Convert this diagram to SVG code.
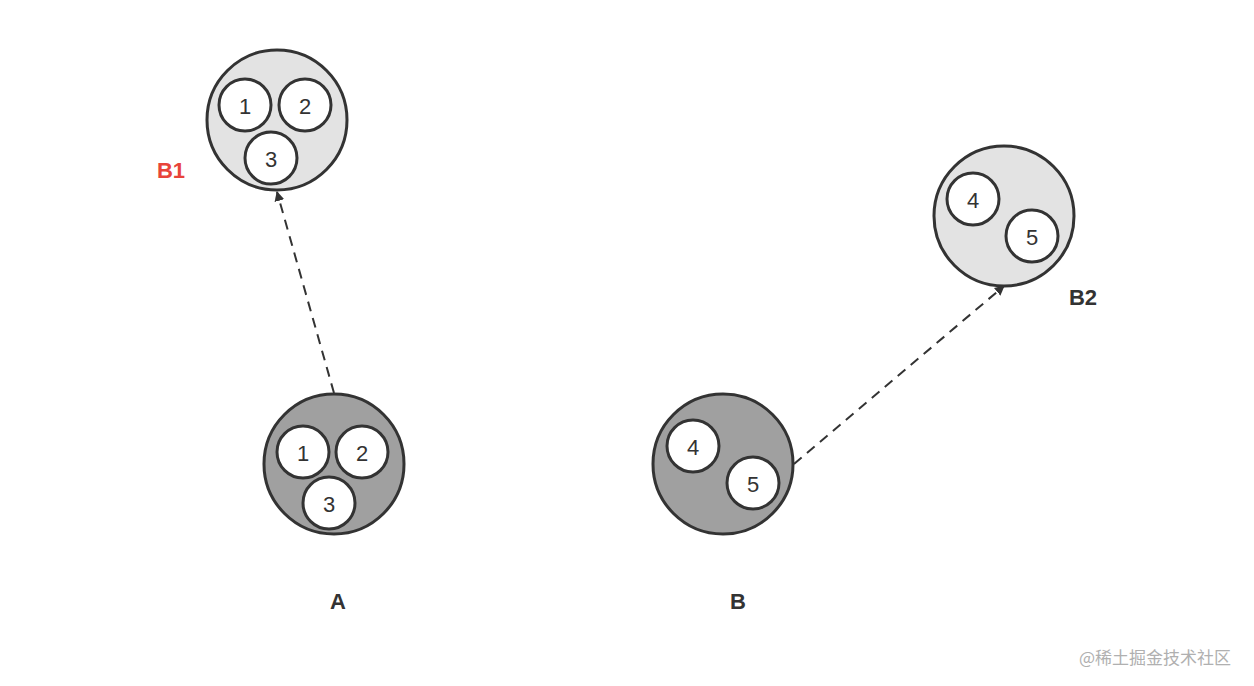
<svg xmlns="http://www.w3.org/2000/svg" width="1254" height="686" viewBox="0 0 1254 686">
<defs>
<marker id="ah" viewBox="0 0 10 10" refX="9" refY="5" markerWidth="5" markerHeight="5" orient="auto" markerUnits="strokeWidth"><path d="M0,0 L10,5 L0,10 z" fill="#333"/></marker>
<style>
.big{stroke:#333;stroke-width:3}
.light{fill:#e3e3e3}.dark{fill:#a0a0a0}
.in{fill:#fff;stroke:#333;stroke-width:3}
.n{font-family:"Liberation Sans",Arial,sans-serif;font-size:22px;fill:#333;text-anchor:middle;dominant-baseline:central}
.lb{font-family:"Liberation Sans",Arial,sans-serif;font-size:22px;font-weight:bold;fill:#333;text-anchor:middle;dominant-baseline:central}
.con{stroke:#333;stroke-width:2;stroke-dasharray:10 7;fill:none;marker-end:url(#ah)}
</style>
</defs>
<rect width="1254" height="686" fill="#fff"/>
<g id="connectors">
<line class="con" x1="334" y1="393" x2="277" y2="192"/>
<line class="con" x1="794" y1="464" x2="1004" y2="286"/>
</g>
<g id="B1">
<circle class="big light" cx="277" cy="120" r="70"/>
<circle class="in" cx="245" cy="105" r="26"/><text class="n" x="245" y="106">1</text>
<circle class="in" cx="305" cy="105" r="26"/><text class="n" x="305" y="106">2</text>
<circle class="in" cx="271" cy="158" r="26"/><text class="n" x="271" y="159">3</text>
<text class="lb" x="171" y="170" style="fill:#e8443a">B1</text>
</g>
<g id="A">
<circle class="big dark" cx="334" cy="464" r="70"/>
<circle class="in" cx="303" cy="452" r="26"/><text class="n" x="303" y="453">1</text>
<circle class="in" cx="362" cy="452" r="26"/><text class="n" x="362" y="453">2</text>
<circle class="in" cx="329" cy="503" r="26"/><text class="n" x="329" y="504">3</text>
<text class="lb" x="338" y="601">A</text>
</g>
<g id="B">
<circle class="big dark" cx="723" cy="464" r="70"/>
<circle class="in" cx="693" cy="446" r="26"/><text class="n" x="693" y="447">4</text>
<circle class="in" cx="753" cy="483" r="26"/><text class="n" x="753" y="484">5</text>
<text class="lb" x="738" y="601">B</text>
</g>
<g id="B2">
<circle class="big light" cx="1004" cy="216" r="70"/>
<circle class="in" cx="973" cy="199" r="26"/><text class="n" x="973" y="200">4</text>
<circle class="in" cx="1032" cy="236" r="26"/><text class="n" x="1032" y="237">5</text>
<text class="lb" x="1083" y="297">B2</text>
</g>
<text x="1155" y="656" font-family="'Noto Sans CJK SC',sans-serif" font-size="17" fill="#b0b0b0" text-anchor="middle" dominant-baseline="central">@稀土掘金技术社区</text>
</svg>
